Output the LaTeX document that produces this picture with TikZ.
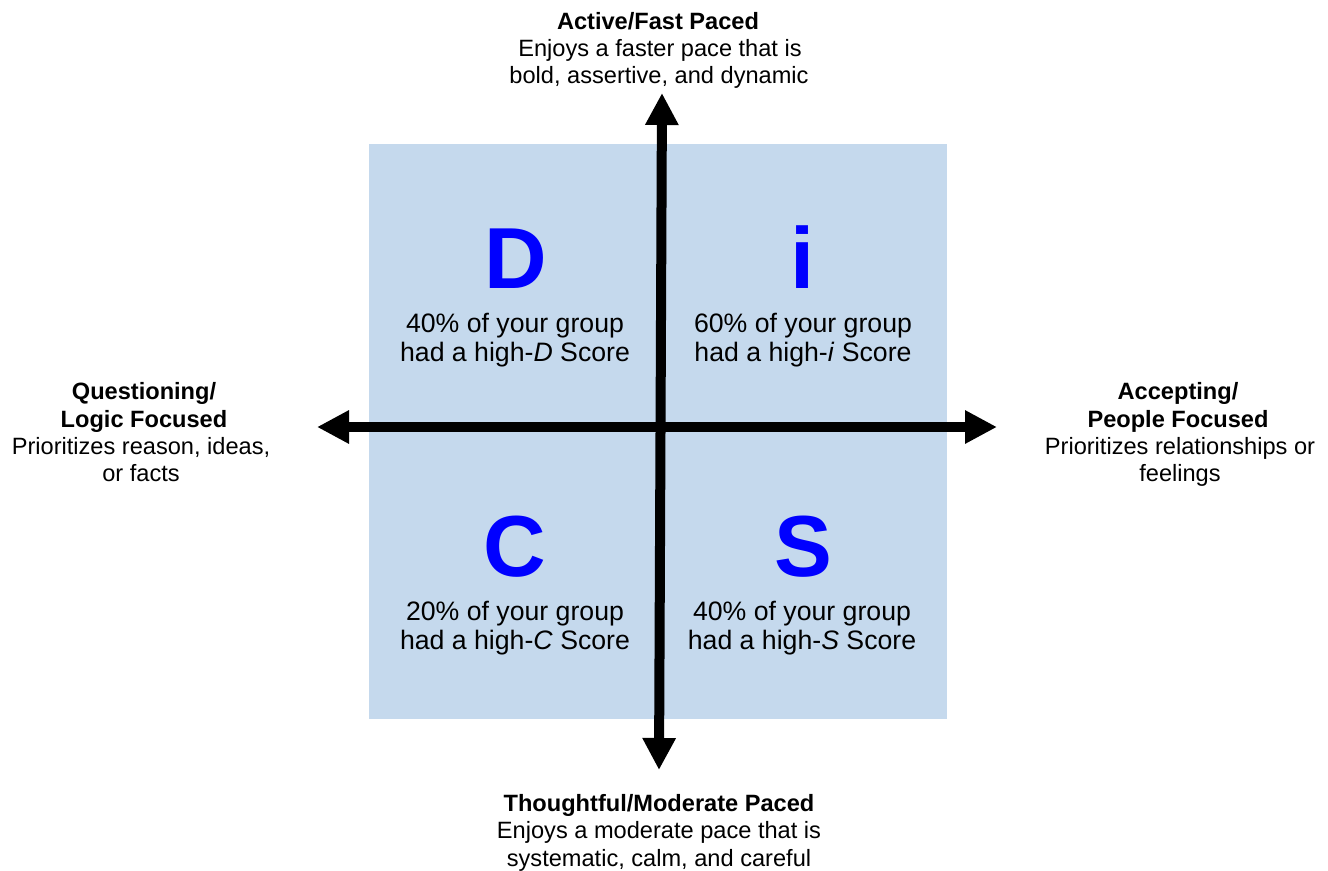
\documentclass[tikz,border=0pt]{standalone}
\usepackage{fontspec}
\setmainfont{Liberation Sans}
\usetikzlibrary{arrows.meta}
\definecolor{boxblue}{RGB}{197,217,237}
\definecolor{letterblue}{RGB}{0,0,255}
\begin{document}
\begin{tikzpicture}[x=0.75pt,y=-0.75pt,
  lbl/.style={anchor=base,inner sep=0pt,font=\fontsize{17.7}{21}\selectfont},
  lblb/.style={lbl,font=\fontsize{17.7}{21}\selectfont\bfseries},
  qtxt/.style={anchor=base,inner sep=0pt,font=\fontsize{20}{24}\selectfont},
  qlet/.style={anchor=base,inner sep=0pt,text=letterblue,font=\fontsize{65}{70}\selectfont\bfseries},
  axis/.style={line width=7.5pt,{Triangle[length=24pt,width=23.5pt]}-{Triangle[length=24pt,width=23.5pt]}}]
\useasboundingbox (0,0) rectangle (1328,871);
% background square
\node[fill=boxblue,minimum width=433.5pt,minimum height=431.25pt,inner sep=0pt,anchor=north west] (sq) at (369,144) {};
% quadrant letters
\node[qlet] (D) at (516,288) {D};
\node[qlet] (I) at (803,288) {i};
\node[qlet] (C) at (515,576) {C};
\node[qlet] (S) at (803,576) {S};
% quadrant texts
\node[qtxt] (d1) at (515,332) {40\% of your group};
\node[qtxt] (d2) at (515,361) {had a high-\textit{D} Score};
\node[qtxt] (i1) at (803,332) {60\% of your group};
\node[qtxt] (i2) at (803,361) {had a high-\textit{i} Score};
\node[qtxt] (c1) at (515,620) {20\% of your group};
\node[qtxt] (c2) at (515,649) {had a high-\textit{C} Score};
\node[qtxt] (s1) at (802,620) {40\% of your group};
\node[qtxt] (s2) at (802,649) {had a high-\textit{S} Score};
% axes
\coordinate (L) at (317,427);
\coordinate (R) at (997,427);
\coordinate (T) at (662,93);
\coordinate (B) at (659,770);
\draw[axis] (L) -- (R);
\draw[axis] (B) -- (T);
% top label
\node[lblb] (t1) at (658,29) {Active/Fast Paced};
\node[lbl] (t2) at (660,56) {Enjoys a faster pace that is};
\node[lbl] (t3) at (659,83.5) {bold, assertive, and dynamic};
% bottom label
\node[lblb] (b1) at (659,811) {Thoughtful/Moderate Paced};
\node[lbl] (b2) at (659,838.5) {Enjoys a moderate pace that is};
\node[lbl] (b3) at (659,866) {systematic, calm, and careful};
% left label
\node[lblb] (l1) at (144,399) {Questioning/};
\node[lblb] (l2) at (144,427) {Logic Focused};
\node[lbl] (l3) at (141,454) {Prioritizes reason, ideas,};
\node[lbl] (l4) at (141,481) {or facts};
% right label
\node[lblb] (r1) at (1178,399) {Accepting/};
\node[lblb] (r2) at (1178,427) {People Focused};
\node[lbl] (r3) at (1180,454) {Prioritizes relationships or};
\node[lbl] (r4) at (1180,481) {feelings};
\end{tikzpicture}
\end{document}
